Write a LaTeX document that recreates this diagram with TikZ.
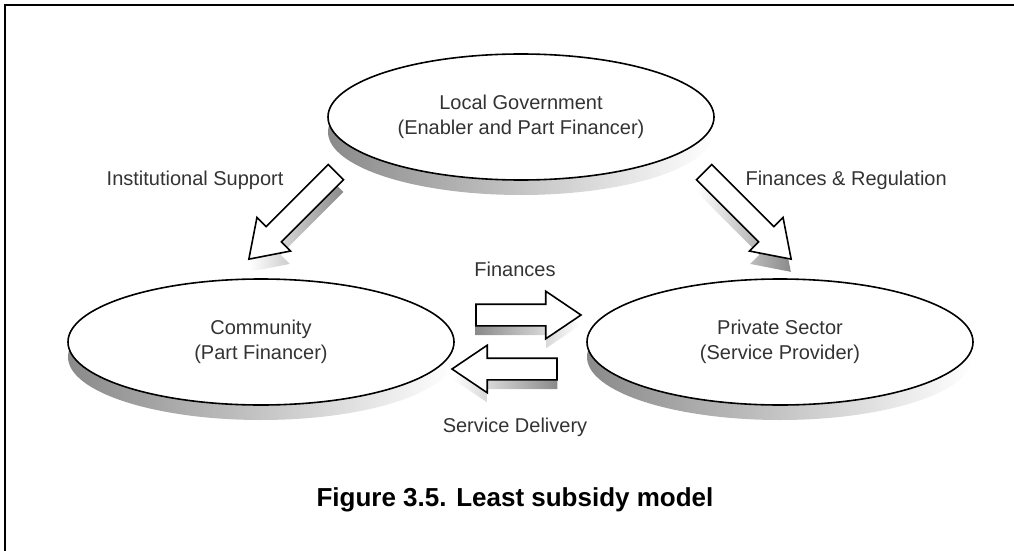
\documentclass[tikz,border=0pt]{standalone}
\usepackage{fontspec}
\setmainfont{Liberation Sans}
\usetikzlibrary{shapes.geometric,shapes.arrows}
\definecolor{inkGray}{HTML}{333333}
\definecolor{shadeDark}{HTML}{8A8A8A}
\definecolor{shadeMid}{HTML}{C2C2C2}

\begin{document}
\begin{tikzpicture}[x=1pt,y=-1pt,every node/.style={font=\fontsize{20}{25}\selectfont,text=inkGray}]
      \tikzstyle{actor}=[ellipse,draw=black,line width=1.6pt,fill=white,
                         minimum width=386pt,minimum height=126pt,align=center,inner sep=0pt]
      \tikzstyle{actorshadow}=[ellipse,minimum width=386pt,minimum height=126pt,
                         left color=shadeDark,middle color=shadeMid,right color=white]
      \tikzstyle{flow}=[single arrow,draw=black,line width=1.6pt,fill=white,
                        inner xsep=0pt,inner ysep=10pt,single arrow head extend=13pt,
                        single arrow tip angle=68,single arrow head indent=0pt]
      \tikzstyle{flowshadow}=[single arrow,inner xsep=0pt,inner ysep=10pt,
                        single arrow head extend=13pt,single arrow tip angle=68]
      \useasboundingbox (0,0) rectangle (1014,551);
      \draw[line width=2.4pt] (5,560) -- (5,5) -- (1020,5);

      % shadows under the ellipses
      \node[actorshadow] (govs) at (521,132) {};
      \node[actorshadow] (comms) at (261,357) {};
      \node[actorshadow] (privs) at (780,357) {};

      \node[actor] (gov) at (521,117) {Local Government\\(Enabler and Part Financer)};
      \node[actor] (comm) at (261,342) {Community\\(Part Financer)};
      \node[actor] (priv) at (780,342) {Private Sector\\(Service Provider)};

      % shadows under the block arrows
      \node[flowshadow,minimum height=123pt,rotate=-135,left color=white,right color=shadeDark] at (298,223) {};
      \node[flowshadow,minimum height=123pt,rotate=-45,left color=white,right color=shadeDark] at (742,223) {};
      \node[flowshadow,minimum height=105pt,left color=shadeDark,right color=white] at (520.5,325) {};
      \node[flowshadow,minimum height=105pt,rotate=180,left color=white,right color=shadeDark] at (512.5,379) {};

      \node[flow,minimum height=123pt,rotate=-135] (supp) at (298,210) {};
      \node[flow,minimum height=123pt,rotate=-45] (reg) at (742,210) {};
      \node[flow,minimum height=105pt] (fin) at (520.5,315) {};
      \node[flow,minimum height=105pt,rotate=180] (del) at (512.5,369) {};

      \node[anchor=east] (supplbl) at (287,180) {Institutional Support};
      \node[anchor=west] (reglbl) at (742,180) {Finances \& Regulation};
      \node (finlbl) at (515,269) {Finances};
      \node (dellbl) at (515,427) {Service Delivery};

      \node[font=\fontsize{26}{30}\selectfont\bfseries,text=black] (caption) at (515,500)
           {Figure 3.5. Least subsidy model};
    \end{tikzpicture}
\end{document}
